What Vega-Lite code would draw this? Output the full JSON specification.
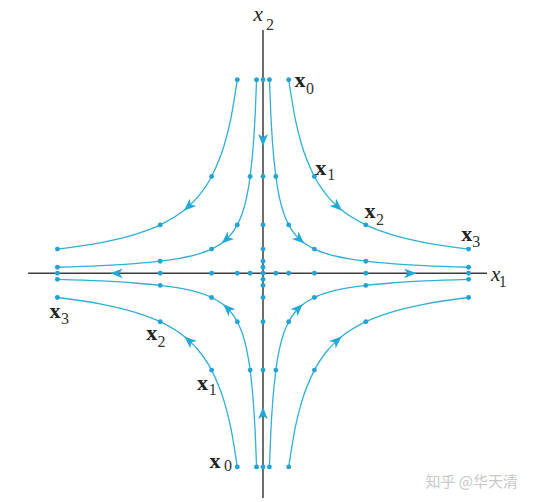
{
  "$schema": "https://vega.github.io/schema/vega-lite/v6.json",
  "width": 536,
  "height": 502,
  "padding": 0,
  "autosize": {"type": "none"},
  "background": "white",
  "config": {"view": {"stroke": null}},
  "datasets": {
    "axes": [
      {"x": -9.14, "y": 0, "x2": 8.72, "y2": 0},
      {"x": 0, "y": 10.05, "x2": 0, "y2": -9.29}
    ],
    "curves": [
      {"c": "o_tr", "x": 1, "y": 8}, {"c": "o_tr", "x": 1.25, "y": 6.4}, {"c": "o_tr", "x": 1.5, "y": 5.333}, {"c": "o_tr", "x": 2, "y": 4}, {"c": "o_tr", "x": 2.5, "y": 3.2}, {"c": "o_tr", "x": 3, "y": 2.667}, {"c": "o_tr", "x": 4, "y": 2}, {"c": "o_tr", "x": 5, "y": 1.6}, {"c": "o_tr", "x": 6.3, "y": 1.27}, {"c": "o_tr", "x": 8, "y": 1},
      {"c": "o_tl", "x": -1, "y": 8}, {"c": "o_tl", "x": -1.25, "y": 6.4}, {"c": "o_tl", "x": -1.5, "y": 5.333}, {"c": "o_tl", "x": -2, "y": 4}, {"c": "o_tl", "x": -2.5, "y": 3.2}, {"c": "o_tl", "x": -3, "y": 2.667}, {"c": "o_tl", "x": -4, "y": 2}, {"c": "o_tl", "x": -5, "y": 1.6}, {"c": "o_tl", "x": -6.3, "y": 1.27}, {"c": "o_tl", "x": -8, "y": 1},
      {"c": "o_br", "x": 1, "y": -8}, {"c": "o_br", "x": 1.25, "y": -6.4}, {"c": "o_br", "x": 1.5, "y": -5.333}, {"c": "o_br", "x": 2, "y": -4}, {"c": "o_br", "x": 2.5, "y": -3.2}, {"c": "o_br", "x": 3, "y": -2.667}, {"c": "o_br", "x": 4, "y": -2}, {"c": "o_br", "x": 5, "y": -1.6}, {"c": "o_br", "x": 6.3, "y": -1.27}, {"c": "o_br", "x": 8, "y": -1},
      {"c": "o_bl", "x": -1, "y": -8}, {"c": "o_bl", "x": -1.25, "y": -6.4}, {"c": "o_bl", "x": -1.5, "y": -5.333}, {"c": "o_bl", "x": -2, "y": -4}, {"c": "o_bl", "x": -2.5, "y": -3.2}, {"c": "o_bl", "x": -3, "y": -2.667}, {"c": "o_bl", "x": -4, "y": -2}, {"c": "o_bl", "x": -5, "y": -1.6}, {"c": "o_bl", "x": -6.3, "y": -1.27}, {"c": "o_bl", "x": -8, "y": -1},
      {"c": "i_tr", "x": 0.25, "y": 8}, {"c": "i_tr", "x": 0.3, "y": 6.667}, {"c": "i_tr", "x": 0.37, "y": 5.405}, {"c": "i_tr", "x": 0.5, "y": 4}, {"c": "i_tr", "x": 0.65, "y": 3.077}, {"c": "i_tr", "x": 0.8, "y": 2.5}, {"c": "i_tr", "x": 1, "y": 2}, {"c": "i_tr", "x": 1.3, "y": 1.538}, {"c": "i_tr", "x": 1.6, "y": 1.25}, {"c": "i_tr", "x": 2, "y": 1}, {"c": "i_tr", "x": 2.6, "y": 0.769}, {"c": "i_tr", "x": 3.3, "y": 0.606}, {"c": "i_tr", "x": 4, "y": 0.5}, {"c": "i_tr", "x": 5, "y": 0.4}, {"c": "i_tr", "x": 6.3, "y": 0.317}, {"c": "i_tr", "x": 8, "y": 0.25},
      {"c": "i_tl", "x": -0.25, "y": 8}, {"c": "i_tl", "x": -0.3, "y": 6.667}, {"c": "i_tl", "x": -0.37, "y": 5.405}, {"c": "i_tl", "x": -0.5, "y": 4}, {"c": "i_tl", "x": -0.65, "y": 3.077}, {"c": "i_tl", "x": -0.8, "y": 2.5}, {"c": "i_tl", "x": -1, "y": 2}, {"c": "i_tl", "x": -1.3, "y": 1.538}, {"c": "i_tl", "x": -1.6, "y": 1.25}, {"c": "i_tl", "x": -2, "y": 1}, {"c": "i_tl", "x": -2.6, "y": 0.769}, {"c": "i_tl", "x": -3.3, "y": 0.606}, {"c": "i_tl", "x": -4, "y": 0.5}, {"c": "i_tl", "x": -5, "y": 0.4}, {"c": "i_tl", "x": -6.3, "y": 0.317}, {"c": "i_tl", "x": -8, "y": 0.25},
      {"c": "i_br", "x": 0.25, "y": -8}, {"c": "i_br", "x": 0.3, "y": -6.667}, {"c": "i_br", "x": 0.37, "y": -5.405}, {"c": "i_br", "x": 0.5, "y": -4}, {"c": "i_br", "x": 0.65, "y": -3.077}, {"c": "i_br", "x": 0.8, "y": -2.5}, {"c": "i_br", "x": 1, "y": -2}, {"c": "i_br", "x": 1.3, "y": -1.538}, {"c": "i_br", "x": 1.6, "y": -1.25}, {"c": "i_br", "x": 2, "y": -1}, {"c": "i_br", "x": 2.6, "y": -0.769}, {"c": "i_br", "x": 3.3, "y": -0.606}, {"c": "i_br", "x": 4, "y": -0.5}, {"c": "i_br", "x": 5, "y": -0.4}, {"c": "i_br", "x": 6.3, "y": -0.317}, {"c": "i_br", "x": 8, "y": -0.25},
      {"c": "i_bl", "x": -0.25, "y": -8}, {"c": "i_bl", "x": -0.3, "y": -6.667}, {"c": "i_bl", "x": -0.37, "y": -5.405}, {"c": "i_bl", "x": -0.5, "y": -4}, {"c": "i_bl", "x": -0.65, "y": -3.077}, {"c": "i_bl", "x": -0.8, "y": -2.5}, {"c": "i_bl", "x": -1, "y": -2}, {"c": "i_bl", "x": -1.3, "y": -1.538}, {"c": "i_bl", "x": -1.6, "y": -1.25}, {"c": "i_bl", "x": -2, "y": -1}, {"c": "i_bl", "x": -2.6, "y": -0.769}, {"c": "i_bl", "x": -3.3, "y": -0.606}, {"c": "i_bl", "x": -4, "y": -0.5}, {"c": "i_bl", "x": -5, "y": -0.4}, {"c": "i_bl", "x": -6.3, "y": -0.317}, {"c": "i_bl", "x": -8, "y": -0.25}
    ],
    "dots": [
      {"x": 1, "y": 8}, {"x": 2, "y": 4}, {"x": 4, "y": 2}, {"x": 8, "y": 1},
      {"x": -1, "y": 8}, {"x": -2, "y": 4}, {"x": -4, "y": 2}, {"x": -8, "y": 1},
      {"x": 1, "y": -8}, {"x": 2, "y": -4}, {"x": 4, "y": -2}, {"x": 8, "y": -1},
      {"x": -1, "y": -8}, {"x": -2, "y": -4}, {"x": -4, "y": -2}, {"x": -8, "y": -1},
      {"x": 0.25, "y": 8}, {"x": 0.5, "y": 4}, {"x": 1, "y": 2}, {"x": 2, "y": 1}, {"x": 4, "y": 0.5}, {"x": 8, "y": 0.25},
      {"x": -0.25, "y": 8}, {"x": -0.5, "y": 4}, {"x": -1, "y": 2}, {"x": -2, "y": 1}, {"x": -4, "y": 0.5}, {"x": -8, "y": 0.25},
      {"x": 0.25, "y": -8}, {"x": 0.5, "y": -4}, {"x": 1, "y": -2}, {"x": 2, "y": -1}, {"x": 4, "y": -0.5}, {"x": 8, "y": -0.25},
      {"x": -0.25, "y": -8}, {"x": -0.5, "y": -4}, {"x": -1, "y": -2}, {"x": -2, "y": -1}, {"x": -4, "y": -0.5}, {"x": -8, "y": -0.25},
      {"x": 0.5, "y": 0}, {"x": 1, "y": 0}, {"x": 2, "y": 0}, {"x": 4, "y": 0}, {"x": 8, "y": 0},
      {"x": -0.5, "y": 0}, {"x": -1, "y": 0}, {"x": -2, "y": 0}, {"x": -4, "y": 0}, {"x": -8, "y": 0},
      {"x": 0, "y": 8}, {"x": 0, "y": 4}, {"x": 0, "y": 2}, {"x": 0, "y": 1}, {"x": 0, "y": 0.5}, {"x": 0, "y": 0.25},
      {"x": 0, "y": -8}, {"x": 0, "y": -4}, {"x": 0, "y": -2}, {"x": 0, "y": -1}, {"x": 0, "y": -0.5}, {"x": 0, "y": -0.25},
      {"x": 0, "y": 0}
    ],
    "arrows": [
      {"x": 2.89, "y": 2.77, "a": 132}, {"x": 1.42, "y": 1.41, "a": 132},
      {"x": -2.89, "y": 2.77, "a": -132}, {"x": -1.42, "y": 1.41, "a": -132},
      {"x": 2.87, "y": -2.79, "a": 48}, {"x": 1.37, "y": -1.46, "a": 46},
      {"x": -2.87, "y": -2.79, "a": -48}, {"x": -1.37, "y": -1.46, "a": -46},
      {"x": 0, "y": 5.51, "a": 180}, {"x": 0, "y": -5.79, "a": 0},
      {"x": 5.72, "y": 0, "a": 90}, {"x": -5.69, "y": 0, "a": -90}
    ],
    "bold": [
      {"x": 1.44, "y": 7.99, "t": "x"}, {"x": 2.245, "y": 4.36, "t": "x"}, {"x": 4.16, "y": 2.59, "t": "x"}, {"x": 7.93, "y": 1.62, "t": "x"},
      {"x": -8.09, "y": -1.55, "t": "x"}, {"x": -4.33, "y": -2.48, "t": "x"}, {"x": -2.35, "y": -4.55, "t": "x"}, {"x": -1.87, "y": -7.74, "t": "x"}
    ],
    "subs": [
      {"x": 1.83, "y": 7.62, "t": "0"}, {"x": 2.66, "y": 4.05, "t": "1"}, {"x": 4.55, "y": 2.22, "t": "2"}, {"x": 8.3, "y": 1.29, "t": "3"},
      {"x": -7.7, "y": -1.88, "t": "3"}, {"x": -3.95, "y": -2.85, "t": "2"}, {"x": -1.96, "y": -4.84, "t": "1"}, {"x": -1.36, "y": -7.98, "t": "0"},
      {"x": 0.27, "y": 10.28, "t": "2"}, {"x": 9.33, "y": -0.38, "t": "1"}
    ],
    "axnames": [
      {"x": -0.19, "y": 10.68, "t": "x"}, {"x": 9.05, "y": -0.07, "t": "x"}
    ],
    "mark": [
      {"x": 8.12, "y": -8.61, "t": "知乎 @华天清"}
    ]
  },
  "encoding": {
    "x": {"field": "x", "type": "quantitative", "axis": null, "scale": {"domain": [-10.2335, 10.6226], "nice": false, "zero": false}},
    "y": {"field": "y", "type": "quantitative", "axis": null, "scale": {"domain": [-9.4504, 11.2934], "nice": false, "zero": false}}
  },
  "layer": [
    {
      "data": {"name": "axes"},
      "mark": {"type": "rule", "color": "#3c3c3c", "strokeWidth": 1.5},
      "encoding": {"x2": {"field": "x2"}, "y2": {"field": "y2"}}
    },
    {
      "data": {"name": "curves"},
      "mark": {"type": "line", "color": "#30afd8", "strokeWidth": 1.3, "interpolate": "monotone"},
      "encoding": {"detail": {"field": "c"}}
    },
    {
      "data": {"name": "dots"},
      "mark": {"type": "point", "filled": true, "opacity": 1, "color": "#22a3d3", "size": 24}
    },
    {
      "data": {"name": "arrows"},
      "mark": {"type": "point", "filled": true, "opacity": 1, "color": "#22a9da", "size": 170, "shape": "M0,-1L0.75,0.9L0,0.4L-0.75,0.9Z"},
      "encoding": {"angle": {"field": "a", "type": "quantitative", "scale": null}}
    },
    {
      "data": {"name": "bold"},
      "mark": {"type": "text", "font": "Liberation Serif", "fontWeight": "bold", "fontSize": 22, "color": "#222", "baseline": "middle", "align": "center"},
      "encoding": {"text": {"field": "t"}}
    },
    {
      "data": {"name": "subs"},
      "mark": {"type": "text", "font": "Liberation Serif", "fontSize": 16, "color": "#333", "baseline": "middle", "align": "center"},
      "encoding": {"text": {"field": "t"}}
    },
    {
      "data": {"name": "axnames"},
      "mark": {"type": "text", "font": "Liberation Serif", "fontStyle": "italic", "fontSize": 21, "color": "#222", "baseline": "middle", "align": "center"},
      "encoding": {"text": {"field": "t"}}
    },
    {
      "data": {"name": "mark"},
      "mark": {"type": "text", "font": "Noto Sans CJK SC", "fontSize": 15, "color": "#c8c8c8", "baseline": "middle", "align": "center"},
      "encoding": {"text": {"field": "t"}}
    }
  ]
}
